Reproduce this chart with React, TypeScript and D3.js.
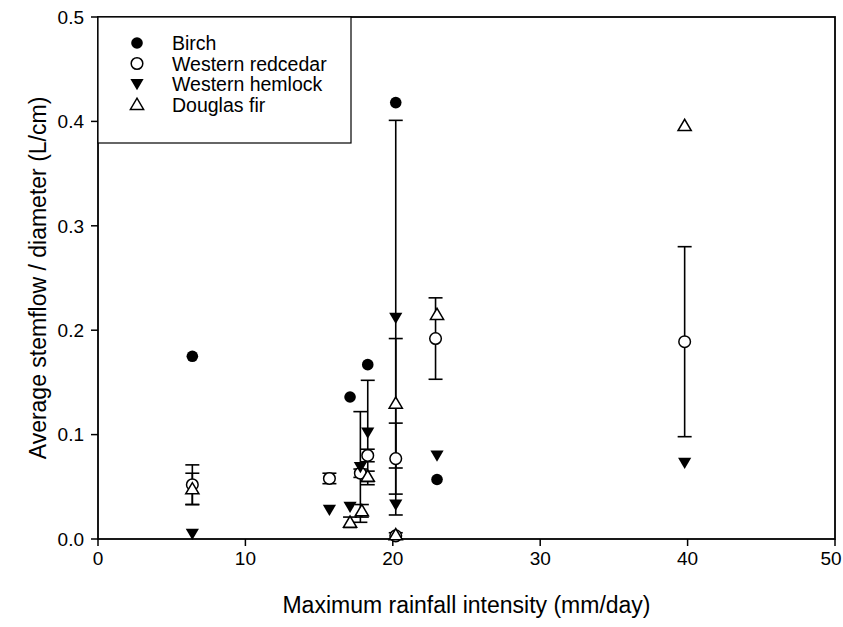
import React from "react";
import * as d3 from "d3";

const xTicks = [0, 10, 20, 30, 40, 50];
const yTicks = [0.0, 0.1, 0.2, 0.3, 0.4, 0.5];

const birchX = [6.4, 17.1, 18.3, 20.2, 23.0];
const birchY = [0.175, 0.136, 0.167, 0.418, 0.057];

const cedarX = [6.4, 15.7, 17.8, 18.3, 20.2, 20.2, 22.9, 39.8];
const cedarY = [0.052, 0.058, 0.063, 0.080, 0.077, 0.003, 0.192, 0.189];
const cedarErr = [0.019, 0.005, 0.004, 0.006, 0.034, 0.003, 0.039, 0.091];

const hemlockX = [6.4, 15.7, 17.1, 17.8, 18.3, 20.2, 20.2, 23.0, 39.8];
const hemlockY = [0.005, 0.028, 0.031, 0.069, 0.102, 0.212, 0.033, 0.080, 0.073];
const hemlockErr = [0, 0, 0, 0.053, 0.05, 0.189, 0, 0, 0];

const firX = [6.4, 17.1, 17.9, 18.3, 20.2, 20.2, 23.0, 39.8];
const firY = [0.048, 0.016, 0.027, 0.060, 0.130, 0.004, 0.215, 0.396];
const firErr = [0.015, 0.005, 0.006, 0.005, 0.062, 0, 0, 0];

const legendLabels = ["Birch", "Western redcedar", "Western hemlock", "Douglas fir"];

const W = 843, H = 627;
const L = 98, R = 835, T = 17, B = 539;

const FONT = "Liberation Sans, Arial, Helvetica, sans-serif";

function Marker({ kind, x, y }: { kind: string; x: number; y: number }) {
  const r = 5.8;
  if (kind === "birch") return <circle cx={x} cy={y} r={r} fill="#000" />;
  if (kind === "cedar") return <circle cx={x} cy={y} r={r} fill="#fff" stroke="#000" strokeWidth={1.5} />;
  const s = 6.6;
  if (kind === "hemlock") {
    const p = `M${x - s},${y - s * 0.75} L${x + s},${y - s * 0.75} L${x},${y + s * 0.95} Z`;
    return <path d={p} fill="#000" />;
  }
  const p = `M${x - s},${y + s * 0.75} L${x + s},${y + s * 0.75} L${x},${y - s * 0.95} Z`;
  return <path d={p} fill="#fff" stroke="#000" strokeWidth={1.5} />;
}

export default function App() {
  const x = d3.scaleLinear().domain([0, 50]).range([L, R]);
  const y = d3.scaleLinear().domain([0, 0.5]).range([B, T]);

  const series = [
    { kind: "birch", xs: birchX, ys: birchY, es: birchX.map(() => 0) },
    { kind: "cedar", xs: cedarX, ys: cedarY, es: cedarErr },
    { kind: "hemlock", xs: hemlockX, ys: hemlockY, es: hemlockErr },
    { kind: "fir", xs: firX, ys: firY, es: firErr },
  ];

  const cap = 7;
  const errBars: React.ReactNode[] = [];
  series.forEach((s) => {
    s.xs.forEach((xv, i) => {
      const e = s.es[i];
      if (!e) return;
      const cx = x(xv);
      const y1 = y(Math.min(0.5, s.ys[i] + e));
      const y0 = y(Math.max(0, s.ys[i] - e));
      errBars.push(
        <g key={`${s.kind}-e-${i}`} stroke="#000" strokeWidth={1.6}>
          <line x1={cx} x2={cx} y1={y1} y2={y0} />
          <line x1={cx - cap} x2={cx + cap} y1={y1} y2={y1} />
          <line x1={cx - cap} x2={cx + cap} y1={y0} y2={y0} />
        </g>
      );
    });
  });

  const kinds = ["birch", "cedar", "hemlock", "fir"];

  return (
    <svg width={W} height={H} style={{ position: "absolute", left: 0, top: 0, background: "#fff" }} fontFamily={FONT}>
      <rect x={0} y={0} width={W} height={H} fill="#fff" />
      {/* frame */}
      <rect x={L} y={T} width={R - L} height={B - T} fill="none" stroke="#000" strokeWidth={1.8} />
      {/* legend box */}
      <rect x={L} y={T} width={253} height={126} fill="#fff" stroke="#000" strokeWidth={1.2} />
      {legendLabels.map((lab, i) => (
        <g key={lab}>
          <Marker kind={kinds[i]} x={137} y={43 + i * 20.5} />
          <text x={172} y={43 + i * 20.5} dy="0.36em" fontSize={19.5}>{lab}</text>
        </g>
      ))}
      {/* x axis */}
      {xTicks.map((t) => (
        <g key={`xt${t}`}>
          <line x1={x(t)} x2={x(t)} y1={B} y2={B + 7} stroke="#000" strokeWidth={1.5} />
          <text x={Math.min(x(t), W - 12)} y={B + 26} textAnchor="middle" fontSize={19}>{t}</text>
        </g>
      ))}
      {yTicks.map((t) => (
        <g key={`yt${t}`}>
          <line x1={L - 7} x2={L} y1={y(t)} y2={y(t)} stroke="#000" strokeWidth={1.5} />
          <text x={L - 14} y={y(t)} dy="0.36em" textAnchor="end" fontSize={19}>{t.toFixed(1)}</text>
        </g>
      ))}
      <text x={(L + R) / 2} y={613} textAnchor="middle" fontSize={23}>Maximum rainfall intensity (mm/day)</text>
      <text transform={`translate(46,${(T + B) / 2}) rotate(-90)`} textAnchor="middle" fontSize={23}>Average stemflow / diameter (L/cm)</text>
      {errBars}
      {series.map((s) =>
        s.xs.map((xv, i) => <Marker key={`${s.kind}-${i}`} kind={s.kind} x={x(xv)} y={y(s.ys[i])} />)
      )}
    </svg>
  );
}
